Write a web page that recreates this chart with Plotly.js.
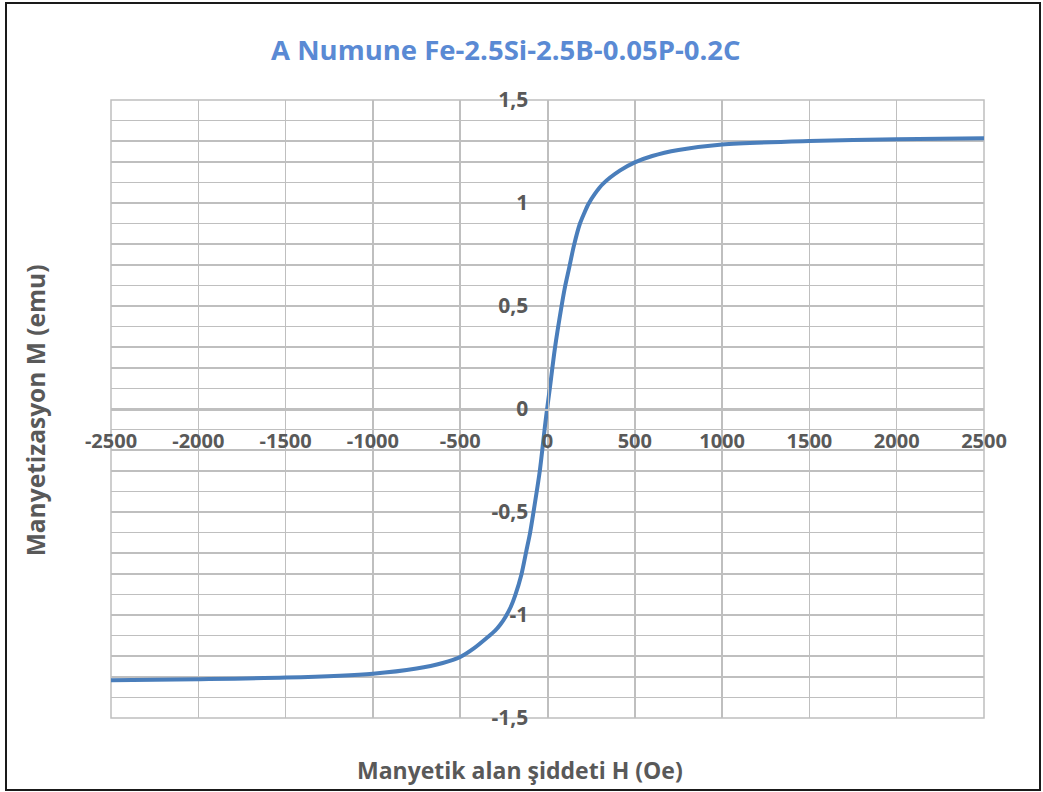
<!DOCTYPE html>
<html>
<head>
<meta charset="utf-8">
<script src="https://cdn.plot.ly/plotly-3.0.1.min.js"></script>
<style>
  html, body { margin: 0; padding: 0; background: #fff; }
  #wrap { position: relative; width: 1043px; height: 792px; }
  #chart { width: 1043px; height: 792px; }
  #frame { position: absolute; left: 5px; top: 2px; width: 1036px; height: 789px;
           box-sizing: border-box; border: 2px solid #1a1a1a; pointer-events: none; }
</style>
</head>
<body>
<div id="wrap"><div id="chart"></div><div id="frame"></div></div>
<script>
// Magnetic field H (Oe)
const fieldH = [-2500, -2000, -1500, -1000, -750, -600, -500, -420, -350, -300, -270, -240, -210, -185, -150, -122, -100, -82, -44, -12, 0, 13, 42, 80, 100, 124, 151, 185, 210, 233, 270, 319, 414, 500, 600, 750, 1000, 1500, 2000, 2500];
// Magnetization M (emu)
const magM = [-1.317, -1.312, -1.304, -1.285, -1.260, -1.233, -1.204, -1.161, -1.113, -1.076, -1.046, -1.008, -0.960, -0.905, -0.806, -0.692, -0.602, -0.510, -0.300, -0.065, 0.015, 0.098, 0.292, 0.497, 0.592, 0.685, 0.792, 0.898, 0.950, 0.993, 1.043, 1.094, 1.157, 1.197, 1.228, 1.257, 1.284, 1.301, 1.309, 1.314];

const xTickVals = [-2500, -2000, -1500, -1000, -500, 0, 500, 1000, 1500, 2000, 2500];
const xTickText = ['-2500', '-2000', '-1500', '-1000', '-500', '0', '500', '1000', '1500', '2000', '2500'];
const yTickVals = [-1.5, -1, -0.5, 0, 0.5, 1, 1.5];
const yTickText = ['-1,5', '-1', '-0,5', '0', '0,5', '1', '1,5'];

const chartTitle = 'A Numune Fe-2.5Si-2.5B-0.05P-0.2C';
const xTitle = 'Manyetik alan şiddeti H (Oe)';
const yTitle = 'Manyetizasyon M (emu)';

const FONT = 'Open Sans, Noto Sans, DejaVu Sans, sans-serif';
const GRID = '#bfbfbf';
const TXT = '#595959';

const trace = {
  x: fieldH, y: magM, type: 'scatter', mode: 'lines',
  line: { color: '#4a7ebb', width: 4, shape: 'spline', smoothing: 0.8 },
  hoverinfo: 'x+y'
};

const layout = {
  width: 1043, height: 792,
  margin: { l: 111, r: 59, t: 100, b: 74 },
  paper_bgcolor: '#ffffff', plot_bgcolor: '#ffffff',
  showlegend: false,
  font: { family: FONT, color: TXT },
  title: {
    text: '<b>' + chartTitle + '</b>',
    font: { family: FONT, size: 27.5, color: '#5a8ad4' },
    xref: 'container', yref: 'container', x: 0.485, y: 0.937,
    xanchor: 'center', yanchor: 'middle'
  },
  xaxis: {
    range: [-2500, 2500], tickmode: 'array', tickvals: xTickVals, ticktext: xTickText,
    showgrid: true, gridcolor: GRID, gridwidth: 1.5, zeroline: false,
    showline: true, linecolor: GRID, linewidth: 1.5, mirror: false,
    anchor: 'free', position: 0.5, side: 'bottom',
    ticks: '', ticklabelstandoff: 13,
    tickfont: { family: FONT, size: 20, color: TXT, weight: 'bold' },
    fixedrange: true
  },
  yaxis: {
    range: [-1.5, 1.5], tickmode: 'array', tickvals: yTickVals, ticktext: yTickText,
    showgrid: true, gridcolor: GRID, gridwidth: 1.5, zeroline: false,
    showline: true, linecolor: GRID, linewidth: 1.5,
    anchor: 'free', position: 0.5, side: 'left',
    ticks: '', ticklabelstandoff: 15,
    tickfont: { family: FONT, size: 21, color: TXT, weight: 'bold' },
    minor: { tickmode: 'linear', tick0: 0, dtick: 0.1, showgrid: true, gridcolor: GRID, gridwidth: 1.5, ticks: '' },
    fixedrange: true
  },
  shapes: [
    { type: 'rect', xref: 'paper', yref: 'paper', x0: 0, x1: 1, y0: 0, y1: 1,
      line: { color: GRID, width: 1.5 }, fillcolor: 'rgba(0,0,0,0)', layer: 'below' }
  ],
  annotations: [
    { text: '<b>' + xTitle + '</b>', xref: 'paper', yref: 'paper', x: 0.4685, y: -0.084,
      xanchor: 'center', yanchor: 'middle', showarrow: false,
      font: { family: FONT, size: 23, color: TXT } },
    { text: '<b>' + yTitle + '</b>', xref: 'paper', yref: 'paper', x: -0.087, y: 0.498,
      xanchor: 'center', yanchor: 'middle', showarrow: false, textangle: -90,
      font: { family: FONT, size: 24.5, color: TXT } }
  ]
};

Plotly.newPlot('chart', [trace], layout, { staticPlot: true, displayModeBar: false });
</script>
</body>
</html>
